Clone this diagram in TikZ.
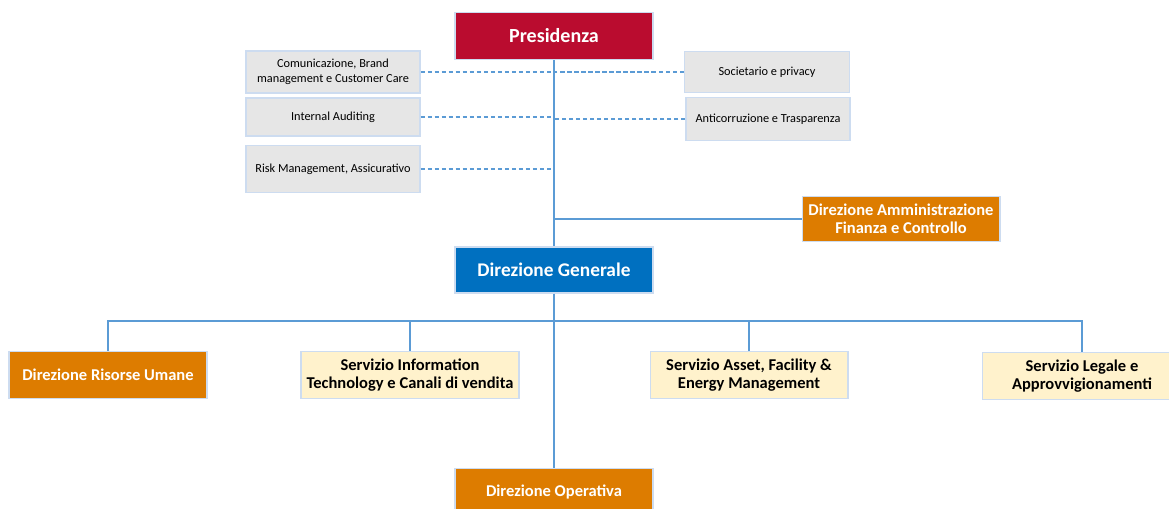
\documentclass[tikz,border=0pt]{standalone}
\usepackage{fontspec}
\setmainfont{Carlito}
\usetikzlibrary{calc}
\definecolor{presred}{RGB}{186,12,47}
\definecolor{genblue}{RGB}{0,112,192}
\definecolor{diorange}{RGB}{221,124,0}
\definecolor{servyellow}{RGB}{255,242,204}
\definecolor{staffgray}{RGB}{230,230,230}
\definecolor{linkblue}{RGB}{91,155,213}
\definecolor{edgeblue}{RGB}{205,220,240}

\begin{document}
\begin{tikzpicture}[x=0.02cm, y=-0.02cm,
		box/.style={draw=edgeblue, line width=0.6pt, align=center, inner sep=1pt},
		topbox/.style={box, minimum width=3.96cm, minimum height=0.94cm, font=\fontsize{11.4}{13}\selectfont\bfseries, text=white},
		staff/.style={box, fill=staffgray, minimum width=3.48cm, font=\fontsize{7}{8.4}\selectfont},
		direz/.style={box, fill=diorange, text=white, minimum width=3.96cm, minimum height=0.94cm, font=\fontsize{9.4}{10.4}\selectfont\bfseries},
		serv/.style={box, fill=servyellow, minimum width=3.96cm, minimum height=0.94cm, font=\fontsize{9.4}{10.4}\selectfont\bfseries},
		solidlink/.style={linkblue, line width=0.9pt},
		dashlink/.style={linkblue, line width=0.6pt, dashed, dash pattern=on 2.5pt off 1.5pt}]
				\useasboundingbox (0,0) rectangle (1169,508);

				\node[topbox, fill=presred] (pres) at (554,36) {Presidenza};
				\node[topbox, fill=genblue, minimum height=0.92cm, font=\fontsize{11}{13}\selectfont\bfseries] (gen) at (554,270) {Direzione Generale};

				\node[staff, minimum height=0.84cm] (comm) at (333,72) {Comunicazione, Brand\\management e Customer Care};
				\node[staff, minimum height=0.76cm] (audit) at (333,117) {Internal Auditing};
				\node[staff, minimum height=0.94cm] (risk) at (333,169) {Risk Management, Assicurativo};
				\node[staff, minimum width=3.3cm, minimum height=0.82cm] (soc) at (767,72) {Societario e privacy};
				\node[staff, minimum width=3.28cm, minimum height=0.86cm] (anti) at (768,119) {Anticorruzione e Trasparenza};

				\node[direz, minimum height=0.9cm] (amm) at (901,219) {Direzione Amministrazione\\Finanza e Controllo};
				\node[direz] (hr) at (108,375) {Direzione Risorse Umane};
				\node[serv, minimum width=4.36cm] (it) at (410,375) {Servizio Information\\Technology e Canali di vendita};
				\node[serv] (asset) at (749,375) {Servizio Asset, Facility \&\\Energy Management};
				\node[serv, minimum width=4cm] (legal) at (1082,376) {Servizio Legale e\\Approvvigionamenti};
				\node[direz] (oper) at (554,492) {Direzione Operativa};

				\coordinate (trunk) at (554,321);

				% staff lines
				\draw[dashlink] (comm.east) -- (comm.east -| pres.south);
				\draw[dashlink] (audit.east) -- (audit.east -| pres.south);
				\draw[dashlink] (risk.east) -- (risk.east -| pres.south);
				\draw[dashlink] (soc.west) -- (soc.west -| pres.south);
				\draw[dashlink] (anti.west) -- (anti.west -| pres.south);

				\draw[solidlink] (pres.south) -- (gen.north);
				\draw[solidlink] (amm.west) -- (amm.west -| pres.south);

				\draw[solidlink] (gen.south) -- (oper.north);
				\draw[solidlink] (hr.north) |- (trunk) -| (legal.north);
				\draw[solidlink] (it.north) -- (it.north |- trunk);
				\draw[solidlink] (asset.north) -- (asset.north |- trunk);
			\end{tikzpicture}
\end{document}
